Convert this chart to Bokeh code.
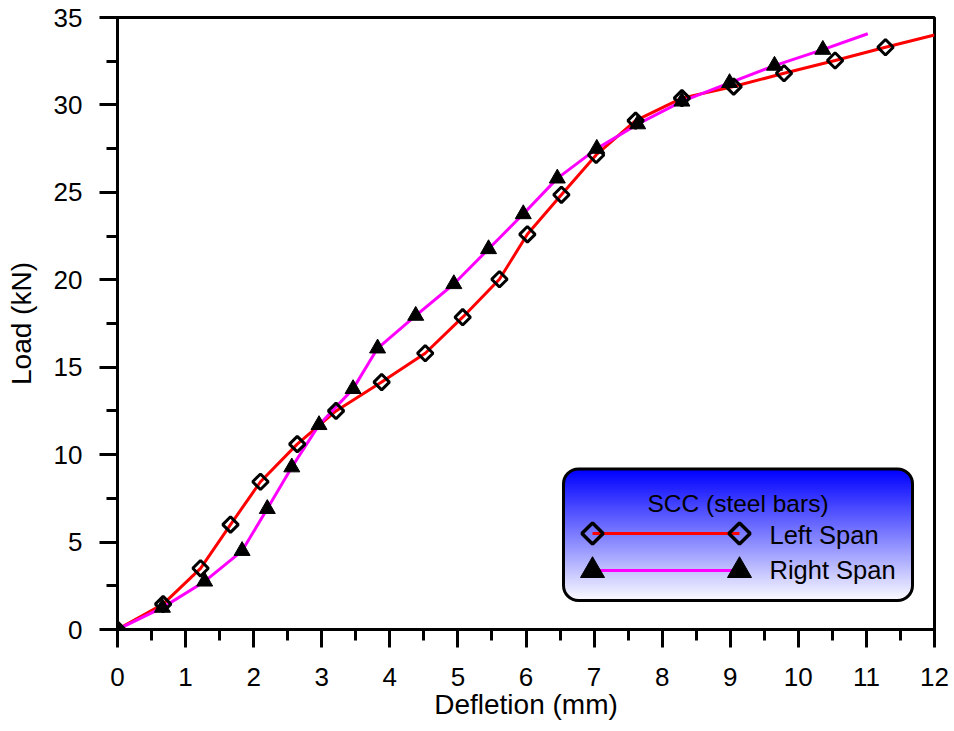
import numpy as np
from bokeh.plotting import figure
from bokeh.models import Range1d, FixedTicker, BoxAnnotation
from bokeh.core.properties import value
from bokeh.embed import file_html
from bokeh.resources import INLINE

# ---------------- data ----------------
x_ticks = [0, 1, 2, 3, 4, 5, 6, 7, 8, 9, 10, 11, 12]
y_ticks = [0, 5, 10, 15, 20, 25, 30, 35]

left_x = [0, 0.67, 1.22, 1.66, 2.10, 2.64, 3.21, 3.88, 4.52, 5.07, 5.61, 6.02,
          6.52, 7.03, 7.61, 8.29, 9.05, 9.79, 10.54, 11.28]
left_y = [0, 1.45, 3.5, 6.0, 8.45, 10.6, 12.5, 14.15, 15.8, 17.86, 20.03, 22.6,
          24.86, 27.14, 29.1, 30.39, 31.05, 31.81, 32.54, 33.3]
left_end = (12.0, 34.0)

right_x = [0, 0.66, 1.28, 1.83, 2.20, 2.56, 2.96, 3.46, 3.82, 4.38, 4.94, 5.45,
           5.96, 6.46, 7.04, 7.64, 8.29, 8.99, 9.65, 10.36]
right_y = [0, 1.25, 2.75, 4.5, 6.9, 9.28, 11.7, 13.76, 16.08, 17.95, 19.76, 21.76,
           23.76, 25.8, 27.5, 28.9, 30.2, 31.26, 32.25, 33.16]
right_end = (11.02, 34.07)

legend_title = "SCC (steel bars)"
series_names = ["Left Span", "Right Span"]

FONT = "Liberation Sans"

# ---------------- figure ----------------
FW, FH = 817, 612
p = figure(frame_width=FW, frame_height=FH, output_backend="svg", toolbar_location=None,
           x_range=Range1d(0, 12), y_range=Range1d(0, 35),
           min_border_left=117, min_border_right=20, min_border_top=17, min_border_bottom=102,
           background_fill_color="white", border_fill_color="white")
p.xgrid.visible = False
p.ygrid.visible = False
p.outline_line_color = "black"
p.outline_line_width = 3
p.outline_line_alpha = 1

p.xaxis.ticker = FixedTicker(ticks=x_ticks, minor_ticks=list(np.arange(0, 12.01, 0.5)))
p.yaxis.ticker = FixedTicker(ticks=y_ticks, minor_ticks=list(np.arange(0, 35.01, 2.5)))
p.xaxis.axis_label = "Defletion (mm)"
p.yaxis.axis_label = "Load (kN)"
for ax in (p.xaxis, p.yaxis):
    ax.axis_line_width = 3
    ax.axis_line_color = "black"
    ax.major_tick_line_width = 3
    ax.minor_tick_line_width = 3
    ax.major_tick_line_color = "black"
    ax.minor_tick_line_color = "black"
    ax.major_tick_in = 0
    ax.major_tick_out = 18
    ax.minor_tick_in = 0
    ax.minor_tick_out = 11
    ax.major_label_text_font = FONT
    ax.major_label_text_font_size = "26px"
    ax.major_label_text_color = "black"
    ax.axis_label_text_font = FONT
    ax.axis_label_text_font_size = "28px"
    ax.axis_label_text_font_style = "normal"
    ax.axis_label_text_color = "black"
p.xaxis.major_label_standoff = 20
p.yaxis.major_label_standoff = 17
p.xaxis.axis_label_standoff = 0
p.yaxis.axis_label_standoff = 14

# ---------------- series ----------------
p.line(left_x + [left_end[0]], left_y + [left_end[1]], line_color="red", line_width=3)
p.line(right_x + [right_end[0]], right_y + [right_end[1]], line_color="magenta", line_width=3)
p.scatter(left_x, left_y, marker="square", angle=np.pi / 4, size=11,
          fill_alpha=0, line_color="black", line_width=3)
p.scatter(right_x, right_y, marker="triangle", size=16,
          fill_color="black", line_color="black", line_width=1)

# ---------------- legend box (gradient) ----------------
px_x = FW / 12.0
px_y = FH / 35.0
lx0, lx1 = 6.551, 11.677
ly0, ly1 = 1.658, 9.179
radius = 15
h_px = (ly1 - ly0) * px_y
n = int(round(h_px / 1.5))
step = (ly1 - ly0) / n
lefts, rights, tops, bottoms, colors = [], [], [], [], []
for i in range(n):
    top = ly1 - i * step
    bot = top - step
    mid = top - step / 2
    dpx = min(ly1 - mid, mid - ly0) * px_y
    inset = 0.0
    if dpx < radius:
        inset = radius - np.sqrt(max(radius ** 2 - (radius - dpx) ** 2, 0))
    t = i / (n - 1)
    c = int(round(250 * t))
    lefts.append(lx0 + inset / px_x)
    rights.append(lx1 - inset / px_x)
    tops.append(top)
    bottoms.append(max(bot - step * 0.8, ly0) if i < n - 1 else bot)
    colors.append("#%02x%02xff" % (c, c))
p.quad(left=lefts, right=rights, top=tops, bottom=bottoms, fill_color=colors,
       line_alpha=0, line_width=0)
p.add_layout(BoxAnnotation(left=lx0, right=lx1, bottom=ly0, top=ly1, fill_alpha=0,
                           line_color="black", line_width=3, line_alpha=1, border_radius=radius))

# legend content
sx0, sx1 = 6.977, 9.136
row_y = [5.49, 3.37]
text_x = 9.576
p.text([(lx0 + lx1) / 2], [7.2], text=[legend_title], text_font=value(FONT),
       text_font_size=value("24.5px"), text_align="center", text_baseline="middle", text_color="black")
p.line([sx0, sx1], [row_y[0], row_y[0]], line_color="red", line_width=3)
p.scatter([sx0, sx1], [row_y[0], row_y[0]], marker="square", angle=np.pi / 4, size=15,
          fill_alpha=0, line_color="black", line_width=3.5)
p.line([sx0, sx1], [row_y[1], row_y[1]], line_color="magenta", line_width=3)
p.scatter([sx0, sx1], [row_y[1], row_y[1]], marker="triangle", size=24,
          fill_color="black", line_color="black", line_width=1)
p.text([text_x, text_x], [row_y[0] - 0.1, row_y[1] + 0.05], text=series_names, text_font=value(FONT),
       text_font_size=value("25.5px"), text_align="left", text_baseline="middle", text_color="black")

open("out.html", "w").write(file_html(p, INLINE))
